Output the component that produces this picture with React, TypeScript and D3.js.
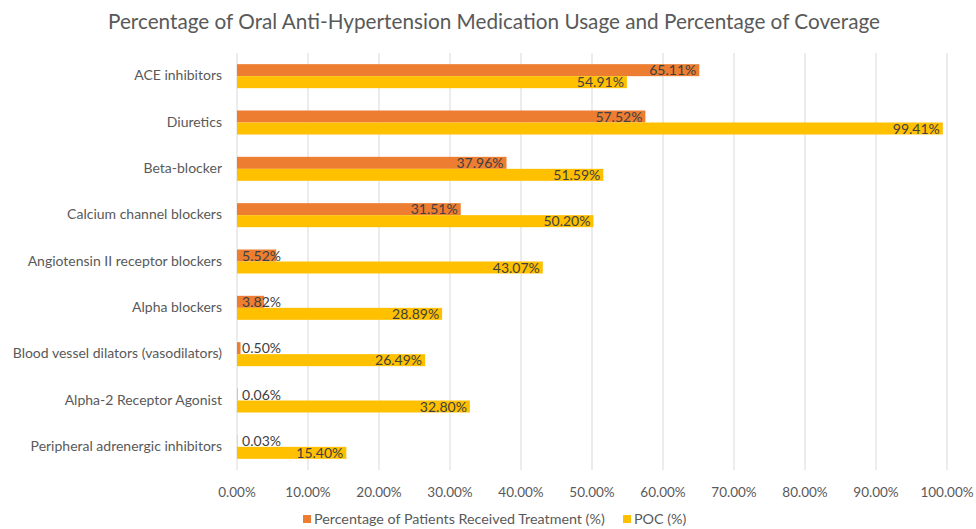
import React, { useEffect, useRef } from "react";
import * as d3 from "d3";

const categories = [
  "ACE inhibitors",
  "Diuretics",
  "Beta-blocker",
  "Calcium channel blockers",
  "Angiotensin II receptor blockers",
  "Alpha blockers",
  "Blood vessel dilators (vasodilators)",
  "Alpha-2 Receptor Agonist",
  "Peripheral adrenergic inhibitors",
];
const treatment = [65.11, 57.52, 37.96, 31.51, 5.52, 3.82, 0.5, 0.06, 0.03];
const poc = [54.91, 99.41, 51.59, 50.2, 43.07, 28.89, 26.49, 32.8, 15.4];
const xTicks = [0, 10, 20, 30, 40, 50, 60, 70, 80, 90, 100];
const seriesNames = ["Percentage of Patients Received Treatment (%)", "POC (%)"];
const colors = ["#ED7D31", "#FFC000"];

const W = 976, H = 529;
const FONT = "Lato, 'Open Sans', sans-serif";

export default function App() {
  const ref = useRef<SVGSVGElement>(null);

  useEffect(() => {
    const svg = d3.select(ref.current);
    svg.selectAll("*").remove();

    const margin = { top: 53, right: 29, bottom: 59, left: 237 };
    const x = d3.scaleLinear().domain([0, 100]).range([margin.left, W - margin.right]);
    const y = d3.scaleBand<string>().domain(categories).range([margin.top, H - margin.bottom]);
    const barH = 12;

    svg.append("rect").attr("width", W).attr("height", H).attr("fill", "#fff");

    svg.append("text")
      .attr("x", 494).attr("y", 29)
      .attr("text-anchor", "middle")
      .attr("font-family", FONT).attr("font-size", 21)
      .attr("fill", "#595959")
      .attr("textLength", 772).attr("lengthAdjust", "spacingAndGlyphs")
      .text("Percentage of Oral Anti-Hypertension Medication Usage and Percentage of Coverage");

    // gridlines
    svg.append("g").selectAll("line").data(xTicks).join("line")
      .attr("x1", d => x(d)).attr("x2", d => x(d))
      .attr("y1", margin.top).attr("y2", H - margin.bottom)
      .attr("stroke", "#D9D9D9").attr("stroke-width", 1);

    // tick labels
    svg.append("g").selectAll("text").data(xTicks).join("text")
      .attr("x", d => x(d)).attr("y", 497)
      .attr("text-anchor", "middle")
      .attr("font-family", FONT).attr("font-size", 13.5)
      .attr("fill", "#595959")
      .text(d => d.toFixed(2) + "%");

    // category labels
    svg.append("g").selectAll("text").data(categories).join("text")
      .attr("x", 222).attr("y", d => (y(d) as number) + y.bandwidth() / 2 + 4)
      .attr("text-anchor", "end")
      .attr("font-family", FONT).attr("font-size", 14)
      .attr("fill", "#595959")
      .text(d => d);

    const series = [treatment, poc];
    series.forEach((vals, si) => {
      const g = svg.append("g");
      const top = (c: string) => (y(c) as number) + y.bandwidth() / 2 - barH + si * barH;
      g.selectAll("rect").data(vals).join("rect")
        .attr("x", x(0))
        .attr("y", (_, i) => top(categories[i]))
        .attr("width", d => x(d) - x(0))
        .attr("height", barH)
        .attr("fill", colors[si]);
      g.selectAll("text").data(vals).join("text")
        .attr("x", d => Math.max(x(d) - 3, x(0) + 44))
        .attr("y", (_, i) => top(categories[i]) + barH - 1)
        .attr("text-anchor", "end")
        .attr("font-family", FONT).attr("font-size", 14)
        .attr("fill", "#404040")
        .text(d => d.toFixed(2) + "%");
    });

    // legend
    const leg = svg.append("g");
    const legX = [303, 623];
    seriesNames.forEach((n, i) => {
      leg.append("rect").attr("x", legX[i]).attr("y", 515).attr("width", 8).attr("height", 8).attr("fill", colors[i]);
      leg.append("text").attr("x", legX[i] + 11).attr("y", 524)
        .attr("font-family", FONT).attr("font-size", 14.3)
        .attr("fill", "#595959").text(n);
    });
  }, []);

  return (
    <svg ref={ref} width={W} height={H} style={{ position: "absolute", left: 0, top: 0 }} />
  );
}
